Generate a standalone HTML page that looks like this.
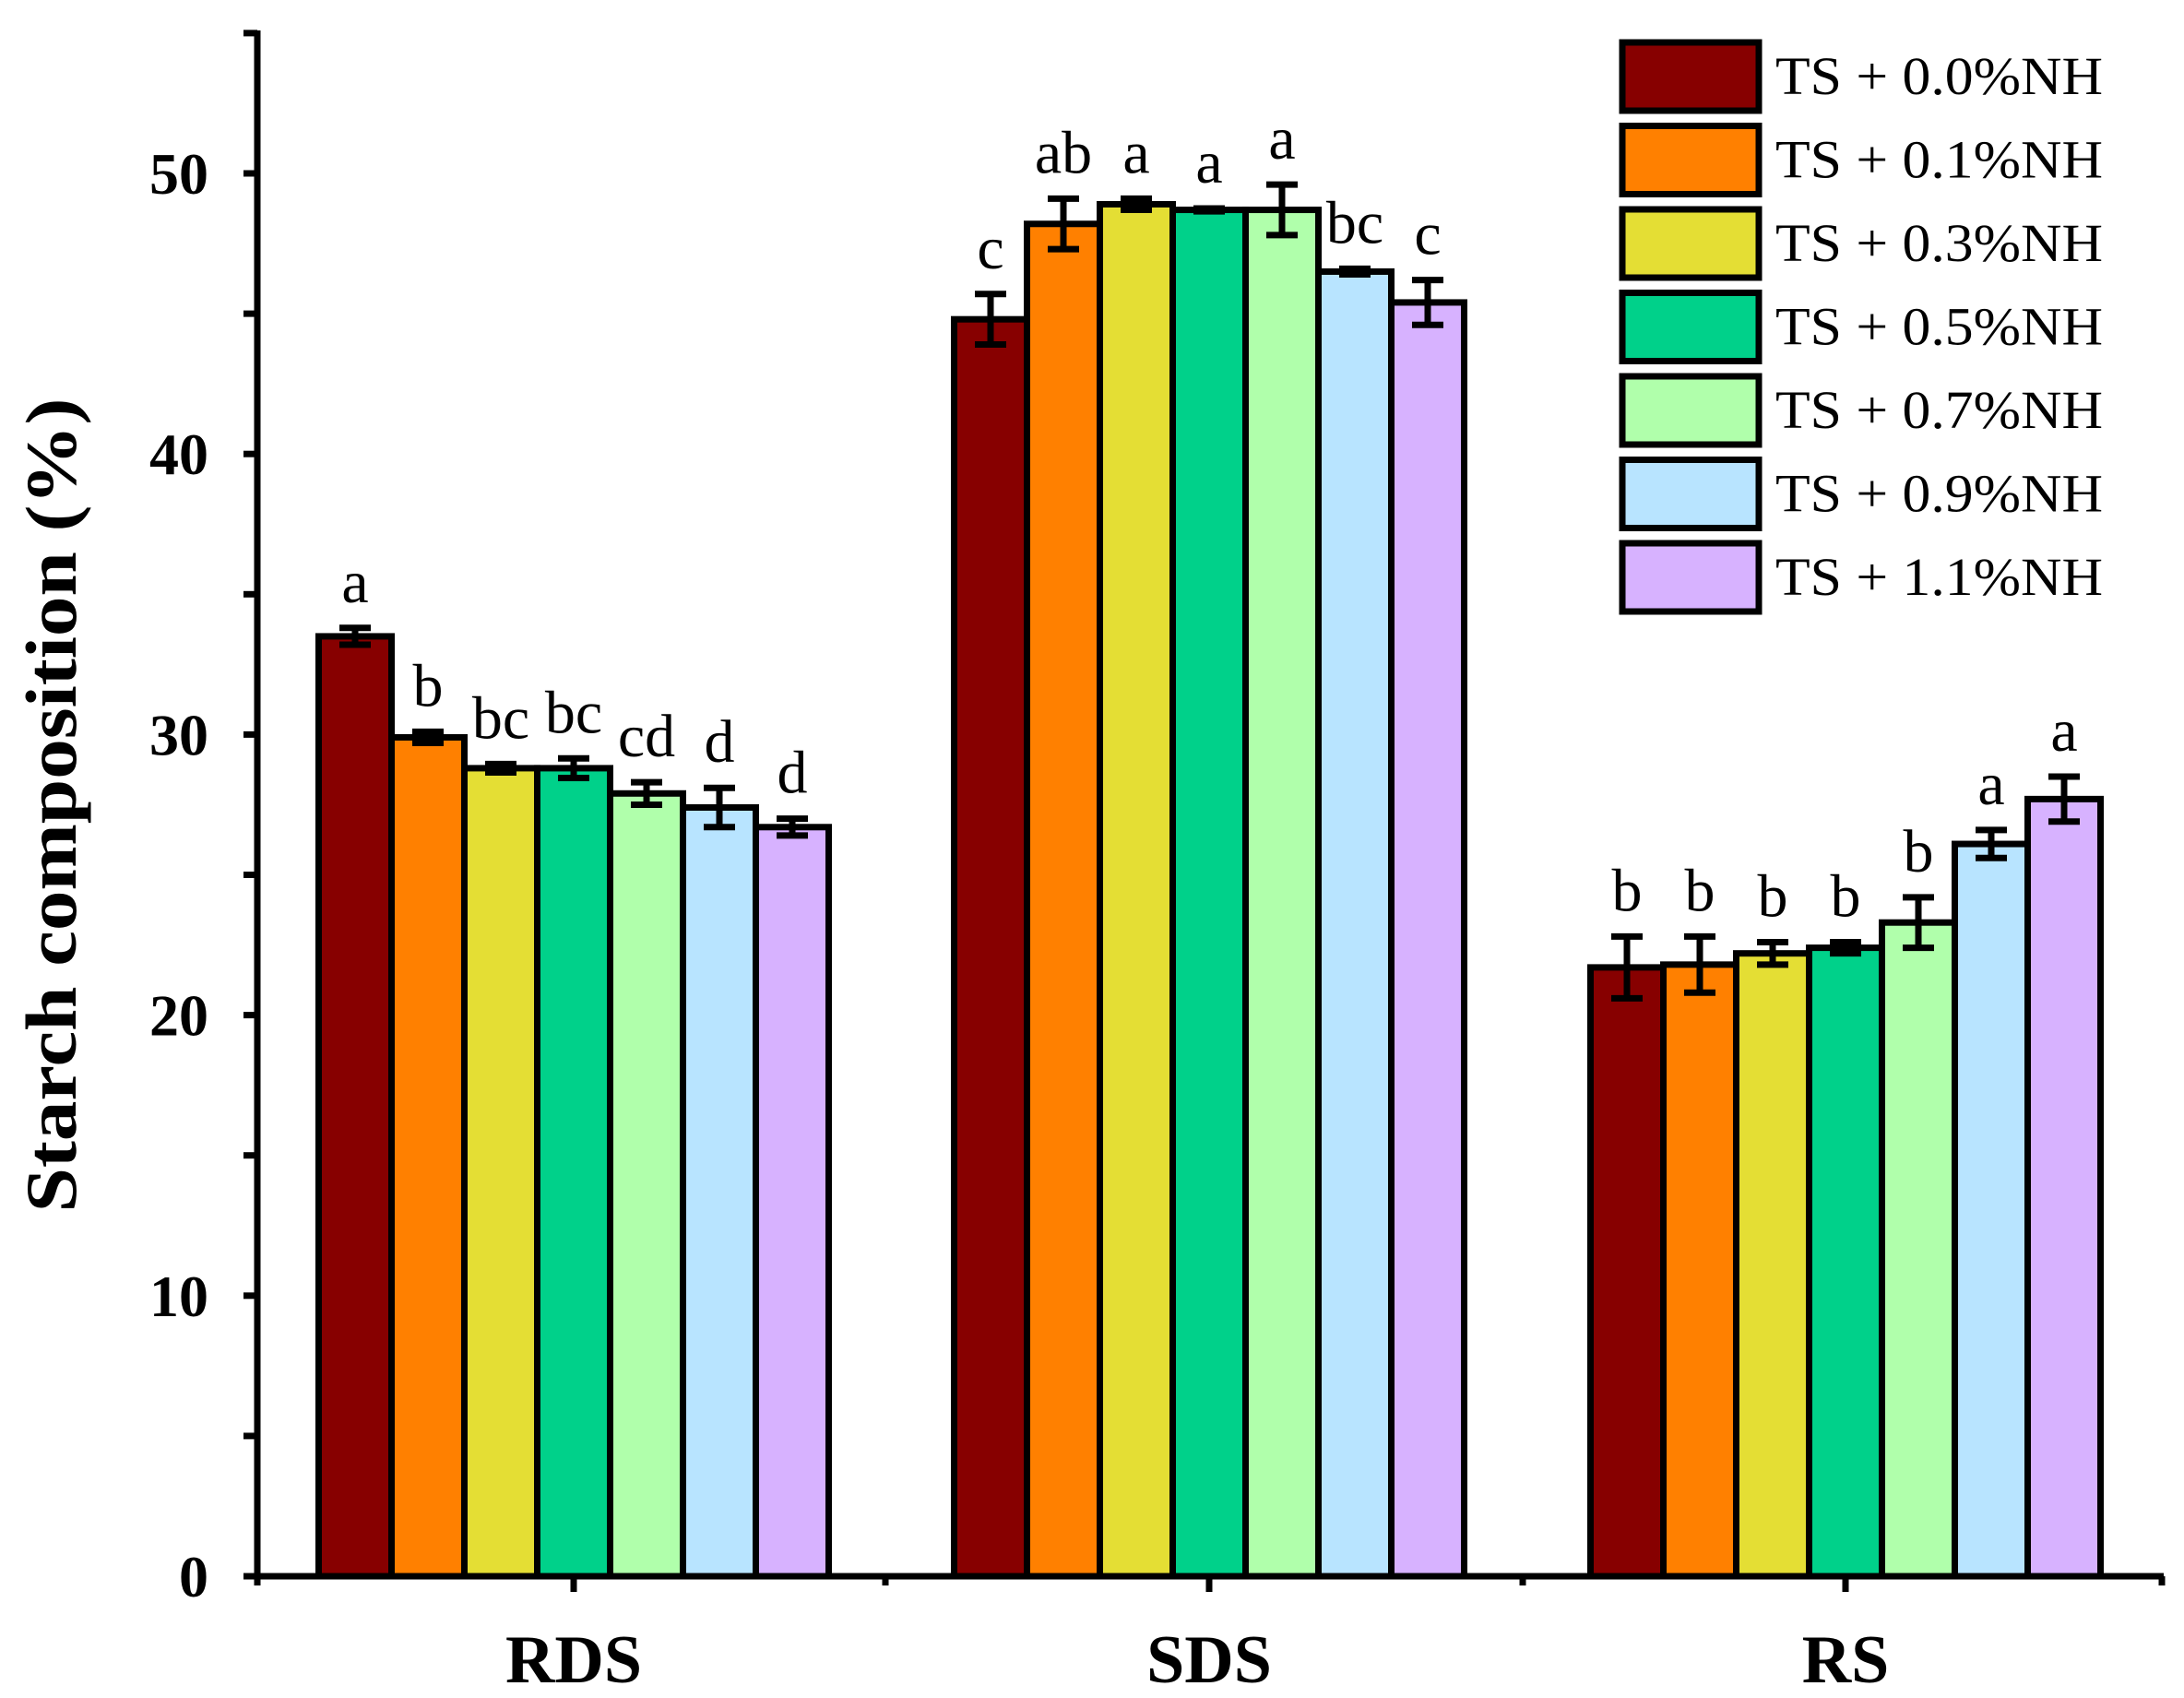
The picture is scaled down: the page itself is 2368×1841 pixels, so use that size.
<!DOCTYPE html>
<html><head><meta charset="utf-8"><style>html,body{margin:0;padding:0;background:#fff}svg{display:block}</style></head>
<body>
<svg id="c" width="2368" height="1841" xmlns="http://www.w3.org/2000/svg" font-family="'Liberation Serif', serif"></svg>
<script>
const s=document.getElementById('c');let h='';
const X0=279,Y0=1709,U=30.42;const y=v=>Y0-v*U;
const cols=['#870000','#FF8000','#E4DE34','#00D18A','#B0FFAB','#B8E4FF','#D7B2FF'];
const data=[
 {c:622,v:[33.5,29.9,28.8,28.8,27.9,27.4,26.7],e:[0.3,0.2,0.15,0.35,0.4,0.7,0.3],l:['a','b','bc','bc','cd','d','d']},
 {c:1311,v:[44.8,48.2,48.9,48.7,48.7,46.5,45.4],e:[0.9,0.9,0.2,0.05,0.9,0.1,0.8],l:['c','ab','a','a','a','bc','c']},
 {c:2001,v:[21.7,21.8,22.2,22.4,23.3,26.1,27.7],e:[1.1,1.0,0.4,0.2,0.9,0.5,0.8],l:['b','b','b','b','b','a','a']}];
const W=79;
data.forEach(g=>{const x0=g.c-3.5*W;
 g.v.forEach((v,i)=>{const x=x0+i*W;h+=`<rect x="${x}" y="${y(v)}" width="${W}" height="${Y0-y(v)}" fill="${cols[i]}" stroke="#000" stroke-width="7"/>`;});
 g.v.forEach((v,i)=>{const cx=x0+i*W+W/2,t=y(v+g.e[i]),b=y(v-g.e[i]);
  h+=`<path d="M${cx} ${t}V${b}M${cx-17} ${t}H${cx+17}M${cx-17} ${b}H${cx+17}" stroke="#000" stroke-width="7" fill="none"/>`;
  h+=`<text x="${cx}" y="${t-28}" font-size="66" text-anchor="middle">${g.l[i]}</text>`;});
});
h+=`<path d="M${X0} 33V${Y0}H2346" stroke="#000" stroke-width="7" fill="none"/>`;
for(let v=0;v<=55;v+=5){h+=`<path d="M${X0-15} ${y(v)}H${X0}" stroke="#000" stroke-width="7"/>`;
 if(v%10==0)h+=`<text x="226" y="${y(v)+22}" font-size="64" font-weight="bold" text-anchor="end">${v}</text>`;}
[X0,622,960,1311,1651,2001,2344].forEach((x,i)=>{h+=`<path d="M${x} ${Y0}V${Y0+(i%2?17:10)}" stroke="#000" stroke-width="7"/>`;});
[['RDS',622],['SDS',1311],['RS',2001]].forEach(([t,x])=>h+=`<text x="${x}" y="1824" font-size="74" font-weight="bold" text-anchor="middle">${t}</text>`);
h+=`<text transform="translate(82,873) rotate(-90)" font-size="78" font-weight="bold" text-anchor="middle" textLength="883" lengthAdjust="spacingAndGlyphs">Starch composition (%)</text>`;
const lab=['0.0','0.1','0.3','0.5','0.7','0.9','1.1'];
lab.forEach((l,i)=>{const cy=83+i*90.5;
 h+=`<rect x="1759" y="${cy-37}" width="148" height="74" fill="${cols[i]}" stroke="#000" stroke-width="7"/>`;
 h+=`<text x="1925" y="${cy+19}" font-size="58" textLength="355" lengthAdjust="spacingAndGlyphs">TS + ${l}%NH</text>`;});
s.innerHTML=h;
</script>
</body></html>
